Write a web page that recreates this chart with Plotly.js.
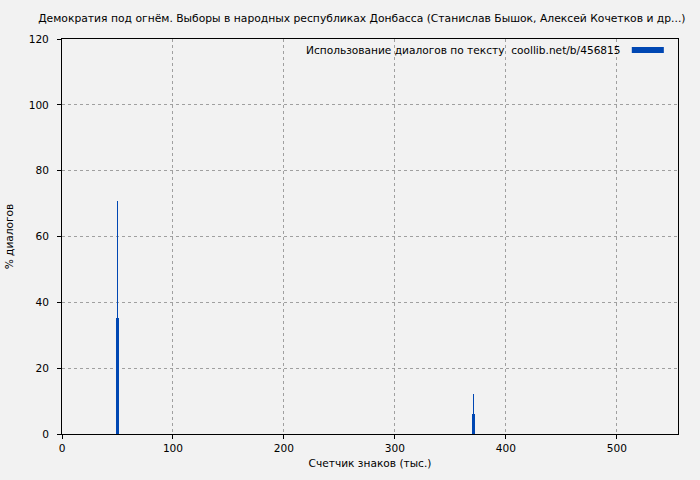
<!DOCTYPE html>
<html>
<head>
<meta charset="utf-8">
<script src="https://cdn.plot.ly/plotly-3.0.1.min.js"></script>
<style>html,body{margin:0;padding:0;background:#f2f2f2;}</style>
</head>
<body>
<div id="chart" style="width:700px;height:480px;"></div>
<script>
const positions = [50.3, 371];          // тыс. знаков
const dialogShare = [35.2, 6.1];        // % диалогов
const dialogPeak = [70.8, 12.2];        // верхняя граница линии
const seriesName = "Использование диалогов по тексту  coollib.net/b/456815";
const chartTitle = "Демократия под огнём. Выборы в народных республиках Донбасса (Станислав Бышок, Алексей Кочетков и др...)";

const blue = "#0047b3";
const font = {family: "DejaVu Sans, sans-serif", size: 10.6, color: "#000"};
const titleFont = {family: "DejaVu Sans, sans-serif", size: 10.75, color: "#000"};

const trace = {
  type: "bar",
  x: positions,
  y: dialogShare,
  width: 2.8,
  name: seriesName,
  marker: {color: blue, line: {width: 0}},
  error_y: {
    type: "data",
    symmetric: false,
    array: dialogPeak.map((v, i) => v - dialogShare[i]),
    arrayminus: dialogShare.map(() => 0),
    color: blue,
    thickness: 1.2,
    width: 0
  },
  showlegend: false,
  hoverinfo: "x+y"
};

const axisCommon = {
  showline: true, linecolor: "#000", linewidth: 1, mirror: true,
  ticks: "outside", ticklen: 4, tickcolor: "#000",
  showgrid: true, gridcolor: "#a0a0a0", griddash: "dot", gridwidth: 1,
  zeroline: false, tickfont: font
};

const layout = {
  width: 700, height: 480,
  paper_bgcolor: "#f2f2f2", plot_bgcolor: "#f2f2f2",
  margin: {l: 62, r: 22, t: 39, b: 46},
  font: font,
  title: {text: chartTitle, font: titleFont, x: 0.517, xanchor: "center", y: 0.962, yanchor: "middle"},
  xaxis: Object.assign({}, axisCommon, {
    range: [0, 555], tickvals: [0, 100, 200, 300, 400, 500],
    title: {text: "Счетчик знаков (тыс.)", font: font, standoff: 6}
  }),
  yaxis: Object.assign({}, axisCommon, {
    range: [0, 120], tickvals: [0, 20, 40, 60, 80, 100, 120],
    ticklabelstandoff: 6,
    title: {text: "% диалогов", font: font, standoff: 12}
  }),
  bargap: 0,
  showlegend: false,
  annotations: [{
    xref: "paper", yref: "paper", x: 0.911, y: 0.972,
    xanchor: "right", yanchor: "middle", showarrow: false,
    text: seriesName, font: font
  }],
  shapes: [{
    type: "line", xref: "paper", yref: "paper",
    x0: 0.925, x1: 0.977, y0: 0.972, y1: 0.972,
    line: {color: blue, width: 6}
  }]
};

Plotly.newPlot("chart", [trace], layout, {displayModeBar: false, staticPlot: true});
</script>
</body>
</html>
